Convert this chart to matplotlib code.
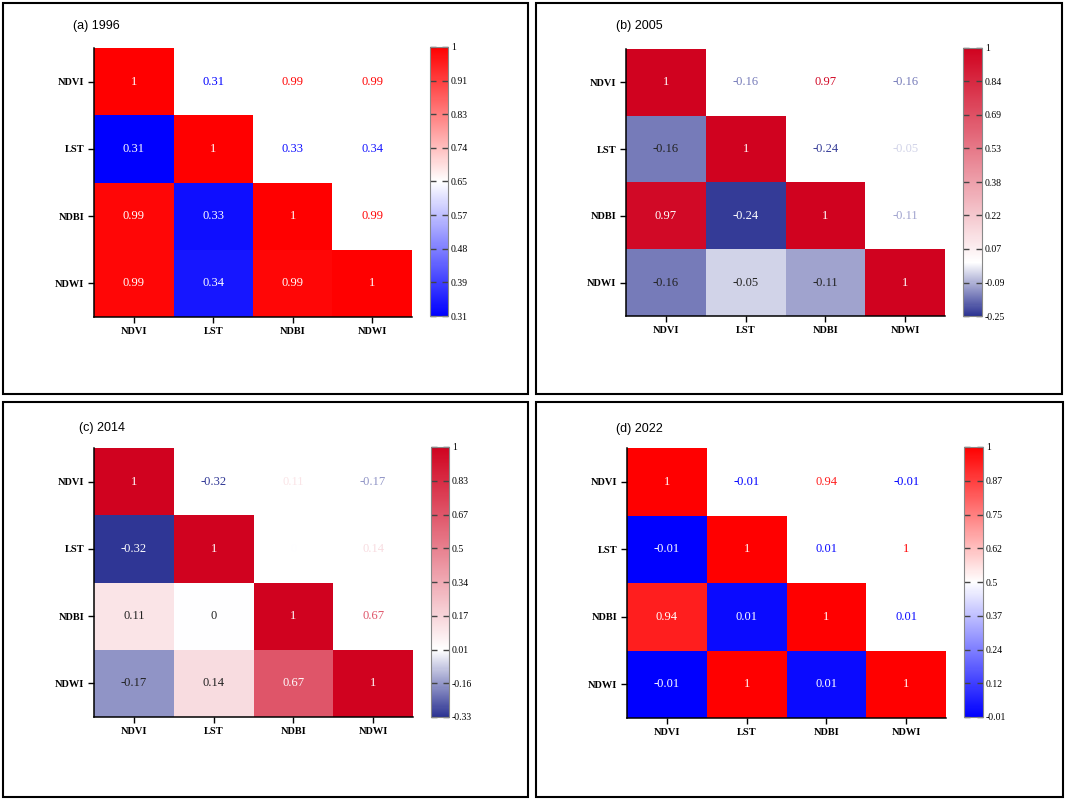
import numpy as np
import matplotlib
matplotlib.use("Agg")
import matplotlib.pyplot as plt
from matplotlib.colors import LinearSegmentedColormap, Normalize
from matplotlib.patches import Rectangle

labels = ["NDVI", "LST", "NDBI", "NDWI"]

titles = ["(a) 1996", "(b) 2005", "(c) 2014", "(d) 2022"]

corr_1996 = [[1, 0.31, 0.99, 0.99],
             [0.31, 1, 0.33, 0.34],
             [0.99, 0.33, 1, 0.99],
             [0.99, 0.34, 0.99, 1]]

corr_2005 = [[1, -0.16, 0.97, -0.16],
             [-0.16, 1, -0.24, -0.05],
             [0.97, -0.24, 1, -0.11],
             [-0.16, -0.05, -0.11, 1]]

corr_2014 = [[1, -0.32, 0.11, -0.17],
             [-0.32, 1, 0, 0.14],
             [0.11, 0, 1, 0.67],
             [-0.17, 0.14, 0.67, 1]]

corr_2022 = [[1, -0.01, 0.94, -0.01],
             [-0.01, 1, 0.01, 1],
             [0.94, 0.01, 1, 0.01],
             [-0.01, 1, 0.01, 1]]

cbar_ranges = [(0.31, 1), (-0.25, 1), (-0.33, 1), (-0.01, 1)]

cbar_labels = [["0.31", "0.39", "0.48", "0.57", "0.65", "0.74", "0.83", "0.91", "1"],
               ["-0.25", "-0.09", "0.07", "0.22", "0.38", "0.53", "0.69", "0.84", "1"],
               ["-0.33", "-0.16", "0.01", "0.17", "0.34", "0.5", "0.67", "0.83", "1"],
               ["-0.01", "0.12", "0.24", "0.37", "0.5", "0.62", "0.75", "0.87", "1"]]

W, H = 1065, 799

# pixel boxes: frame, heatmap, colorbar, title position
frames = [(3, 3, 528, 394), (536, 3, 1062, 394), (3, 402, 528, 797), (536, 402, 1063, 797)]
heat_boxes = [(94, 48, 412, 317), (626, 49, 945, 316), (94, 448, 413, 717), (627, 448, 946, 718)]
cbar_boxes = [(430, 47, 448, 316), (963, 48, 982, 316), (431, 447, 449, 717), (964, 447, 983, 717)]
title_pos = [(73, 26), (616, 26), (79, 428), (616, 429)]

# colour ends
styles = [("#0000ff", "#ff0000", "mid"), ("#2c3393", "#d0021f", "zero"),
          ("#2c3393", "#d0021f", "zero"), ("#0000ff", "#ff0000", "mid")]

SERIF = "Liberation Serif"
SANS = "Liberation Sans"


def px_box(box):
    x0, y0, x1, y1 = box
    return [x0 / W, 1 - y1 / H, (x1 - x0) / W, (y1 - y0) / H]


def make_cmap(lo_col, hi_col, mode, vmin, vmax):
    if mode == "zero":
        p = (0 - vmin) / (vmax - vmin)
    else:
        p = 0.5
    return LinearSegmentedColormap.from_list("c", [(0, lo_col), (p, "white"), (1, hi_col)])


def draw_panel(fig, k, data):
    data = np.array(data, dtype=float)
    n = len(labels)
    vmin, vmax = cbar_ranges[k]
    lo_col, hi_col, mode = styles[k]
    cmap = make_cmap(lo_col, hi_col, mode, vmin, vmax)
    norm = Normalize(vmin=vmin, vmax=vmax)

    # frame around panel
    x0, y0, x1, y1 = frames[k]
    fig.patches.append(Rectangle((x0 / W, 1 - y1 / H), (x1 - x0) / W, (y1 - y0) / H,
                                 transform=fig.transFigure, fill=False,
                                 edgecolor="black", linewidth=1.5))

    ax = fig.add_axes(px_box(heat_boxes[k]))
    mask = np.triu(np.ones_like(data, dtype=bool), k=1)
    masked = np.ma.array(data, mask=mask)
    mesh = ax.pcolormesh(np.arange(n + 1), np.arange(n + 1), masked, cmap=cmap, norm=norm)
    ax.set_xlim(0, n)
    ax.set_ylim(n, 0)

    for i in range(n):
        for j in range(n):
            v = data[i, j]
            txt = f"{v:g}"
            if j > i:
                col = cmap(norm(v))
            else:
                rgb = cmap(norm(v))[:3]
                col = "white" if 1 - min(rgb) > 0.6 else "#222222"
            ax.text(j + 0.5, i + 0.5, txt, ha="center", va="center",
                    color=col, fontsize=9, family=SERIF)

    ax.set_xticks(np.arange(n) + 0.5)
    ax.set_yticks(np.arange(n) + 0.5)
    ax.set_xticklabels(labels, fontsize=7.5, fontweight="bold", family=SERIF)
    ax.set_yticklabels(labels, fontsize=7.5, fontweight="bold", family=SERIF)
    ax.tick_params(length=4, width=1, pad=3)
    ax.spines["top"].set_visible(False)
    ax.spines["right"].set_visible(False)
    ax.spines["left"].set_linewidth(1.1)
    ax.spines["bottom"].set_linewidth(1.1)

    tx, ty = title_pos[k]
    fig.text(tx / W, 1 - ty / H, titles[k], fontsize=9, family=SANS, va="center", ha="left")

    cax = fig.add_axes(px_box(cbar_boxes[k]))
    cb = fig.colorbar(mesh, cax=cax)
    ticks = np.linspace(vmin, vmax, len(cbar_labels[k]))
    cb.set_ticks(ticks)
    cb.set_ticklabels(cbar_labels[k])
    cb.outline.set_edgecolor("#888888")
    cb.outline.set_linewidth(0.8)
    cax.tick_params(direction="in", left=True, right=True, length=4, width=1,
                    color="#444444", labelsize=7, pad=2)
    for t in cax.get_yticklabels():
        t.set_family(SERIF)


def main():
    fig = plt.figure(figsize=(W / 100, H / 100), dpi=100)
    for k, data in enumerate([corr_1996, corr_2005, corr_2014, corr_2022]):
        draw_panel(fig, k, data)
    fig.savefig("out.png", dpi=100)


if __name__ == "__main__":
    main()
